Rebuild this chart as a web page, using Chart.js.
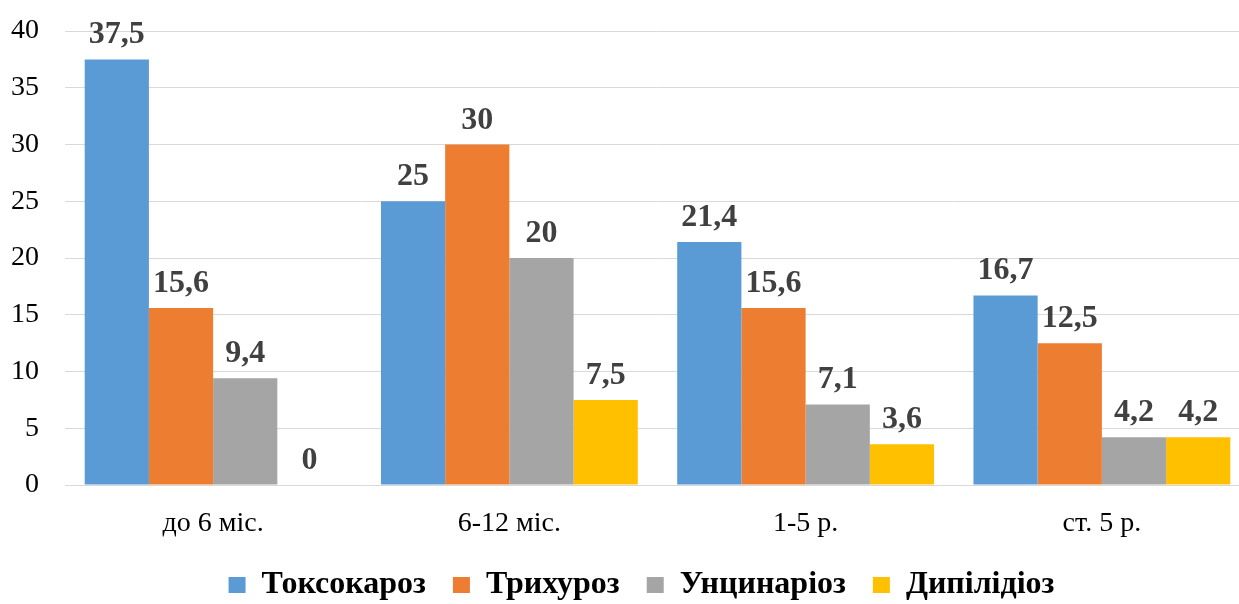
<!DOCTYPE html>
<html>
<head>
<meta charset="utf-8">
<script src="https://cdn.jsdelivr.net/npm/chart.js@4/dist/chart.umd.min.js"></script>
<style>
  html, body { margin: 0; padding: 0; background: #fff; overflow: hidden; }
  /* the source figure is cropped on the right, so the chart is a bit wider than the window */
  #wrap { width: 1250px; height: 604px; }
</style>
</head>
<body>
<div id="wrap"><canvas id="chart"></canvas></div>
<script>
// Age groups and incidence (%)
const categories = ['до 6 міс.', '6-12 міс.', '1-5 р.', 'ст. 5 р.'];
const toxocarosis = [37.5, 25, 21.4, 16.7];
const trichurosis = [15.6, 30, 15.6, 12.5];
const uncinariosis = [9.4, 20, 7.1, 4.2];
const dipylidiosis = [0, 7.5, 3.6, 4.2];
const yTicks = [0, 5, 10, 15, 20, 25, 30, 35, 40];

const serif = '"Liberation Serif", "Times New Roman", serif';

// Draw value labels above bars (comma as decimal separator)
const valueLabels = {
    id: 'valueLabels',
    afterDatasetsDraw(chart) {
        const ctx = chart.ctx;
        ctx.save();
        ctx.font = 'bold 32px ' + serif;
        ctx.fillStyle = '#404040';
        ctx.textAlign = 'center';
        ctx.textBaseline = 'alphabetic';
        chart.data.datasets.forEach((ds, i) => {
            const meta = chart.getDatasetMeta(i);
            meta.data.forEach((bar, j) => {
                const txt = String(ds.data[j]).replace('.', ',');
                ctx.fillText(txt, bar.x, bar.y - 16);
            });
        });
        ctx.restore();
    }
};

// Nudge the legend a bit to the left, like in the original figure
const legendShift = {
    id: 'legendShift',
    afterLayout(chart) {
        if (chart.legend) {
            chart.legend.left -= 16;
            chart.legend.right -= 16;
        }
    }
};

const ctx = document.getElementById('chart').getContext('2d');
new Chart(ctx, {
    type: 'bar',
    data: {
        labels: categories,
        datasets: [
            { label: 'Токсокароз', data: toxocarosis, backgroundColor: '#5B9BD5' },
            { label: 'Трихуроз', data: trichurosis, backgroundColor: '#ED7D31' },
            { label: 'Унцинаріоз', data: uncinariosis, backgroundColor: '#A5A5A5' },
            { label: 'Дипілідіоз', data: dipylidiosis, backgroundColor: '#FFC000' }
        ]
    },
    options: {
        responsive: true,
        maintainAspectRatio: false,
        animation: false,
        layout: { padding: { top: 31, right: 0, left: -15, bottom: -7 } },
        datasets: {
            bar: { categoryPercentage: 0.867, barPercentage: 1.0 }
        },
        plugins: {
            legend: {
                position: 'bottom',
                fullSize: false,
                labels: {
                    boxWidth: 17,
                    boxHeight: 16,
                    padding: 27,
                    color: '#000',
                    font: { family: serif, size: 32, weight: 'bold' }
                }
            },
            tooltip: { enabled: false }
        },
        scales: {
            x: {
                grid: { display: false, drawTicks: false },
                border: { display: true, color: '#d9d9d9', width: 1 },
                ticks: {
                    color: '#000',
                    padding: 22,
                    font: { family: serif, size: 28 }
                },
                afterFit(scale) {
                    scale.height = 57;
                    scale.paddingLeft = 0;
                    scale.paddingRight = 0;
                }
            },
            y: {
                min: 0,
                max: 40,
                afterBuildTicks(axis) {
                    axis.ticks = yTicks.map(v => ({ value: v }));
                },
                afterFit(scale) {
                    scale.paddingTop = 0;
                    scale.paddingBottom = 0;
                },
                grid: { color: '#d9d9d9', drawTicks: false },
                border: { display: false },
                ticks: {
                    color: '#000',
                    padding: 26,
                    font: { family: serif, size: 28 }
                }
            }
        }
    },
    plugins: [valueLabels, legendShift]
});
</script>
</body>
</html>
